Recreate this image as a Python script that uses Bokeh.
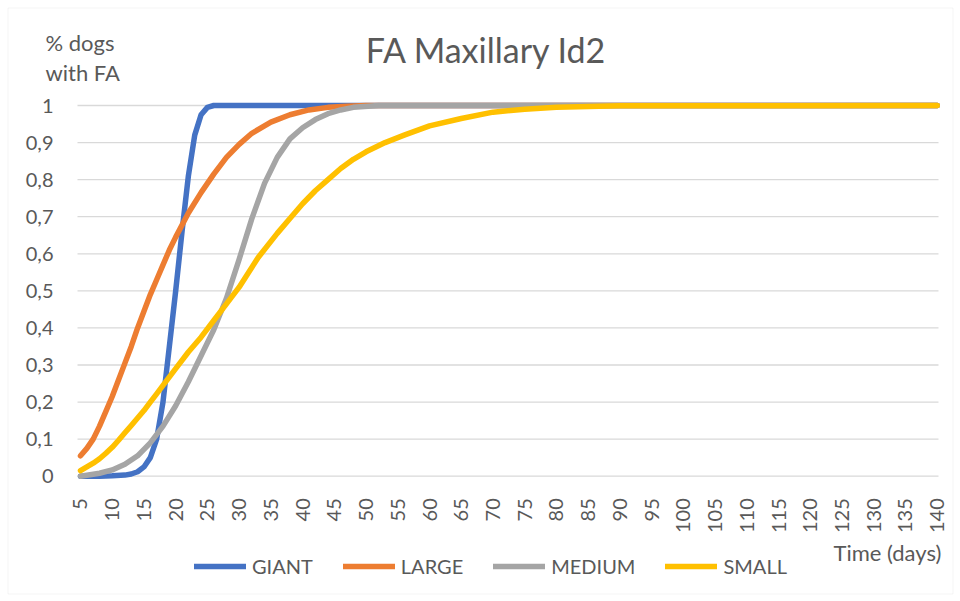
from bokeh.plotting import figure
from bokeh.models import (Range1d, FixedTicker, CustomJSTickFormatter, Legend, LegendItem,
                          Label, BoxAnnotation)
from bokeh.embed import file_html
from bokeh.resources import INLINE
import math

# ---------------- data ----------------
x_ticks = [5, 10, 15, 20, 25, 30, 35, 40, 45, 50, 55, 60, 65, 70, 75, 80, 85, 90,
           95, 100, 105, 110, 115, 120, 125, 130, 135, 140]
y_ticks = [0, 0.1, 0.2, 0.3, 0.4, 0.5, 0.6, 0.7, 0.8, 0.9, 1]

giant_days = [5, 8, 10, 12, 13, 14, 15, 16, 17, 18, 19, 20, 21, 22, 23, 24, 25, 26, 30, 140]
giant = [0, 0, 0.001, 0.003, 0.006, 0.012, 0.025, 0.05, 0.1, 0.2, 0.35, 0.5, 0.66, 0.81,
         0.92, 0.975, 0.995, 1, 1, 1]

large_days = [5, 6, 7, 8, 9, 10, 11, 12, 13, 14, 15, 16, 17, 18, 19, 20, 22, 24, 26, 28,
              30, 32, 35, 38, 41, 44, 47, 50, 140]
large = [0.055, 0.075, 0.1, 0.135, 0.175, 0.215, 0.26, 0.305, 0.35, 0.4, 0.445, 0.49, 0.53,
         0.57, 0.61, 0.645, 0.71, 0.765, 0.815, 0.86, 0.895, 0.925, 0.955, 0.975, 0.988,
         0.995, 0.998, 1, 1]

medium_days = [5, 8, 10, 12, 14, 16, 18, 20, 22, 24, 26, 28, 30, 32, 34, 36, 38, 40, 42,
               44, 46, 48, 52, 140]
medium = [0, 0.008, 0.017, 0.032, 0.055, 0.09, 0.135, 0.19, 0.255, 0.325, 0.395, 0.48,
          0.585, 0.695, 0.79, 0.86, 0.91, 0.94, 0.962, 0.978, 0.988, 0.995, 1, 1]

small_days = [5, 6, 7, 8, 9, 10, 11, 12, 13, 14, 15, 16, 17, 18, 20, 22, 24, 26, 28, 30,
              33, 36, 38, 40, 42, 44, 46, 48, 50, 53, 56, 60, 65, 70, 75, 80, 90, 140]
small = [0.015, 0.025, 0.035, 0.047, 0.062, 0.078, 0.097, 0.117, 0.137, 0.157, 0.177, 0.2,
         0.222, 0.245, 0.29, 0.335, 0.375, 0.42, 0.465, 0.51, 0.59, 0.655, 0.695, 0.735,
         0.77, 0.8, 0.83, 0.855, 0.875, 0.9, 0.92, 0.945, 0.965, 0.982, 0.99, 0.995, 0.999, 1]

series = [
    ("GIANT", giant_days, giant, "#4472C4"),
    ("LARGE", large_days, large, "#ED7D31"),
    ("MEDIUM", medium_days, medium, "#A5A5A5"),
    ("SMALL", small_days, small, "#FFC000"),
]

FONT = "Lato"
TXT = "#595959"
GRID = "#D9D9D9"

# ---------------- layout (pixel geometry of the canvas) ----------------
W, H = 959, 600
PX_X5, PX_X140 = 80.0, 936.7      # screen x of day 5 and day 140
PX_Y0, PX_Y1 = 475.7, 105.0       # screen y (from top) of 0 and 1
KX = (PX_X140 - PX_X5) / 135.0
KY = (PX_Y0 - PX_Y1)
x_lo = 5 - PX_X5 / KX
x_hi = 5 + (W - PX_X5) / KX
y_lo = -(H - PX_Y0) / KY
y_hi = 1 + PX_Y1 / KY
grid_x0 = 5 + (77 - PX_X5) / KX
grid_x1 = 5 + (938 - PX_X5) / KX

p = figure(width=W, height=H, output_backend="svg", toolbar_location=None,
           x_range=Range1d(x_lo, x_hi), y_range=Range1d(y_lo, y_hi),
           min_border=0, title=None)
p.outline_line_color = None
p.background_fill_color = "white"
p.border_fill_color = "white"
p.grid.visible = False

# axes, pinned to the plot area
p.xaxis.fixed_location = 0
p.yaxis.fixed_location = grid_x0
p.xaxis.ticker = FixedTicker(ticks=x_ticks)
p.yaxis.ticker = FixedTicker(ticks=y_ticks)
p.yaxis.formatter = CustomJSTickFormatter(
    code="var s = tick.toFixed(1).replace('.', ','); return s.endsWith(',0') ? s.slice(0, -2) : s;")
for ax in (p.xaxis[0], p.yaxis[0]):
    ax.axis_line_color = None
    ax.major_tick_line_color = None
    ax.minor_tick_line_color = None
    ax.major_label_text_font = FONT
    ax.major_label_text_font_size = "20px"
    ax.major_label_text_color = TXT
p.xaxis.major_label_orientation = math.pi / 2
p.xaxis.major_label_standoff = 16
p.yaxis.major_label_standoff = 18

# horizontal gridlines at the y ticks, spanning the plot area
p.segment(x0=grid_x0, x1=grid_x1, y0=y_ticks, y1=y_ticks, line_color=GRID, line_width=1.3)

items = []
for name, xs, ys, col in series:
    r = p.line(xs, ys, line_color=col, line_width=5.5, line_cap="round", line_join="round")
    items.append(LegendItem(label=name, renderers=[r]))

legend = Legend(items=items, orientation="horizontal", location=(194, H - 578),
                label_text_font=FONT, label_text_font_size="20px", label_text_color=TXT,
                glyph_width=52, glyph_height=20, label_height=20, label_standoff=6,
                spacing=30, padding=0, margin=0, border_line_color=None,
                background_fill_alpha=0)
p.add_layout(legend, "center")

def add_text(x, y_from_top, text, size="20px", align="left"):
    p.add_layout(Label(x=x, y=H - y_from_top, x_units="screen", y_units="screen", text=text,
                       text_font=FONT, text_font_size=size, text_color=TXT,
                       text_align=align, text_baseline="alphabetic"))

add_text(486, 49, "FA Maxillary Id2", size="34px", align="center")
add_text(45, 41.5, "% dogs", size="22px")
add_text(45, 72, "with FA", size="22px")
add_text(833, 551.5, "Time (days)", size="22px")

# chart-area border
p.add_layout(BoxAnnotation(left=7.5, right=952.5, bottom=H - 593.5, top=H - 7.5,
                           left_units="screen", right_units="screen",
                           bottom_units="screen", top_units="screen",
                           fill_alpha=0, line_color=GRID, line_width=1))

open("out.html", "w").write(file_html(p, INLINE))
